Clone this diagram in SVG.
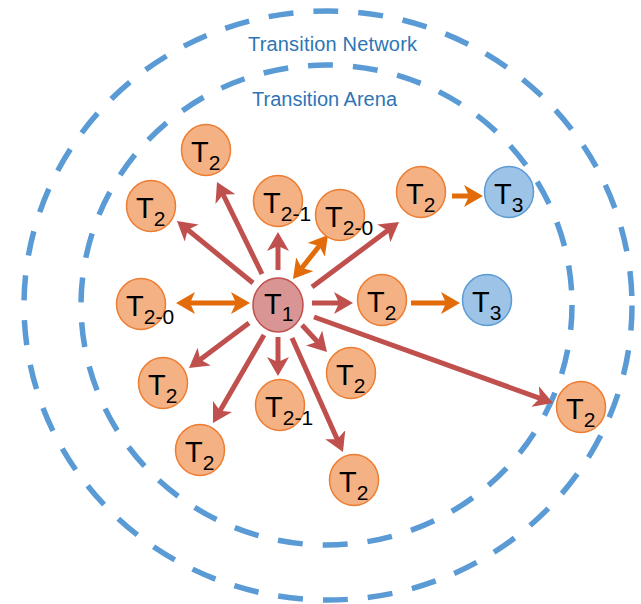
<svg xmlns="http://www.w3.org/2000/svg" width="641" height="604" viewBox="0 0 641 604">
<style>
.ring{fill:none;stroke:#5B9BD5;stroke-width:5.5;stroke-dasharray:25 20}
.lbl{font-family:"Liberation Sans",Arial,sans-serif;font-size:20px;fill:#2E75B6}
.n2 ellipse{fill:#F4B183;stroke:#ED7D31;stroke-width:1.5}
.n3 ellipse{fill:#9DC3E6;stroke:#5B9BD5;stroke-width:1.5}
.n1 ellipse{fill:#D99594;stroke:#C0504D;stroke-width:1.5}
.t{font-family:"Liberation Sans",Arial,sans-serif;font-size:29px;fill:#000}
.s{font-size:21px}
.r{stroke:#C0504D;stroke-width:5;fill:none;marker-end:url(#hr)}
.o{stroke:#E36C0A;stroke-width:5;fill:none;marker-end:url(#ho)}
.ob{marker-start:url(#ho)}
</style>
<defs>
<marker id="hr" markerUnits="userSpaceOnUse" viewBox="0 0 19 22" markerWidth="19" markerHeight="22" refX="9" refY="11" orient="auto-start-reverse"><path d="M0,0 L19,11 L0,22 L5,11 z" fill="#C0504D"/></marker>
<marker id="ho" markerUnits="userSpaceOnUse" viewBox="0 0 19 22" markerWidth="19" markerHeight="22" refX="9" refY="11" orient="auto-start-reverse"><path d="M0,0 L19,11 L0,22 L5,11 z" fill="#E36C0A"/></marker>
</defs>
<g id="rings">
<ellipse class="ring" cx="328" cy="305.5" rx="304" ry="294.5"/>
<ellipse class="ring" cx="326.5" cy="305" rx="245.5" ry="240"/>
<text class="lbl" x="248" y="51" textLength="169" lengthAdjust="spacing">Transition Network</text>
<text class="lbl" x="252" y="106" textLength="145" lengthAdjust="spacing">Transition Arena</text>
</g>
<g id="connectors">
<line class="r" x1="262" y1="274" x2="221.4" y2="191"/>
<line class="r" x1="253" y1="283" x2="184.7" y2="227.3"/>
<line class="r" x1="278" y1="270" x2="278" y2="242"/>
<line class="r" x1="312" y1="287" x2="391" y2="228"/>
<line class="r" x1="312" y1="303" x2="343" y2="303"/>
<line class="r" x1="314" y1="317" x2="543.6" y2="399.6"/>
<line class="r" x1="249" y1="323" x2="197" y2="362"/>
<line class="r" x1="264" y1="335" x2="218" y2="414.3"/>
<line class="r" x1="278" y1="337" x2="278" y2="366"/>
<line class="r" x1="302" y1="325" x2="320.2" y2="344.7"/>
<line class="r" x1="292" y1="338" x2="338.9" y2="442.9"/>
<line class="o ob" x1="299.2" y1="271.2" x2="321.8" y2="242.8"/>
<line class="o ob" x1="186" y1="303" x2="240" y2="303"/>
<line class="o" x1="452" y1="196" x2="473" y2="196"/>
<line class="o" x1="411" y1="303" x2="450" y2="303"/>
</g>
<g id="T1" class="n1"><ellipse cx="278" cy="305" rx="25" ry="27"/><text class="t" x="264" y="314">T<tspan class="s" dy="7">1</tspan></text></g>
<g id="T2_top" class="n2"><ellipse cx="206" cy="150" rx="24.5" ry="25.5"/><text class="t" x="191" y="162">T<tspan class="s" dy="8">2</tspan></text></g>
<g id="T2_upleft" class="n2"><ellipse cx="151" cy="206" rx="24.5" ry="25.5"/><text class="t" x="136" y="218">T<tspan class="s" dy="8">2</tspan></text></g>
<g id="T2-1_top" class="n2"><ellipse cx="278" cy="201" rx="24.5" ry="25.5"/><text class="t" x="263" y="213">T<tspan class="s" dy="8">2-1</tspan></text></g>
<g id="T2-0_right" class="n2"><ellipse cx="340" cy="215" rx="24.5" ry="25.5"/><text class="t" x="325" y="227">T<tspan class="s" dy="8">2-0</tspan></text></g>
<g id="T2_topright" class="n2"><ellipse cx="421" cy="192" rx="24.5" ry="25.5"/><text class="t" x="406" y="204">T<tspan class="s" dy="8">2</tspan></text></g>
<g id="T3_top" class="n3"><ellipse cx="509" cy="192" rx="24.5" ry="25.5"/><text class="t" x="494" y="204">T<tspan class="s" dy="8">3</tspan></text></g>
<g id="T2-0_left" class="n2"><ellipse cx="141" cy="304" rx="24.5" ry="25.5"/><text class="t" x="126" y="316">T<tspan class="s" dy="8">2-0</tspan></text></g>
<g id="T2_mid" class="n2"><ellipse cx="382" cy="300" rx="24.5" ry="25.5"/><text class="t" x="367" y="312">T<tspan class="s" dy="8">2</tspan></text></g>
<g id="T3_mid" class="n3"><ellipse cx="487" cy="300" rx="24.5" ry="25.5"/><text class="t" x="472" y="312">T<tspan class="s" dy="8">3</tspan></text></g>
<g id="T2_lowleft" class="n2"><ellipse cx="163" cy="383" rx="24.5" ry="25.5"/><text class="t" x="148" y="395">T<tspan class="s" dy="8">2</tspan></text></g>
<g id="T2_botleft" class="n2"><ellipse cx="200" cy="450" rx="24.5" ry="25.5"/><text class="t" x="185" y="462">T<tspan class="s" dy="8">2</tspan></text></g>
<g id="T2-1_bottom" class="n2"><ellipse cx="280" cy="405" rx="24.5" ry="25.5"/><text class="t" x="265" y="417">T<tspan class="s" dy="8">2-1</tspan></text></g>
<g id="T2_lowright" class="n2"><ellipse cx="351" cy="373" rx="24.5" ry="25.5"/><text class="t" x="336" y="385">T<tspan class="s" dy="8">2</tspan></text></g>
<g id="T2_bottom" class="n2"><ellipse cx="354" cy="480" rx="24.5" ry="25.5"/><text class="t" x="339" y="492">T<tspan class="s" dy="8">2</tspan></text></g>
<g id="T2_farright" class="n2"><ellipse cx="581" cy="407" rx="24.5" ry="25.5"/><text class="t" x="566" y="419">T<tspan class="s" dy="8">2</tspan></text></g>
</svg>
